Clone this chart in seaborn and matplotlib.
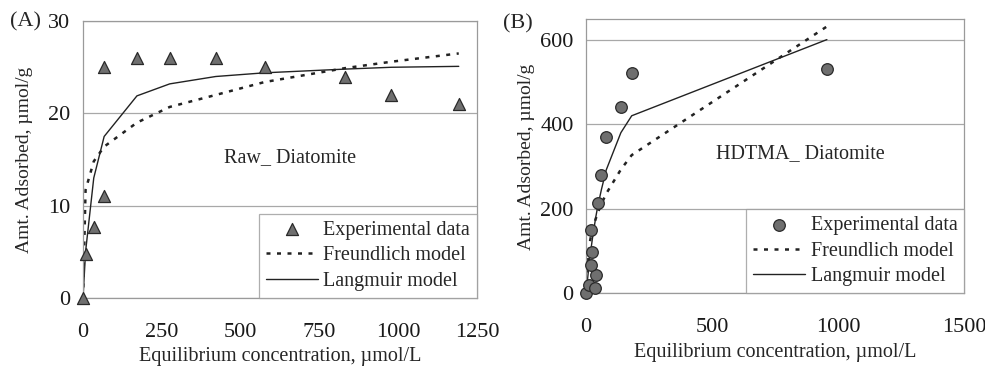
import matplotlib
matplotlib.use('Agg')
import pandas as pd
import matplotlib.pyplot as plt
import seaborn as sns

# ---------------------------------------------------------------------------
# DATA
# ---------------------------------------------------------------------------
# panel A: raw diatomite
raw_exp_x = [0, 8, 34, 67, 67, 171, 275, 421, 576, 830, 978, 1192]
raw_exp_y = [0, 4.8, 7.7, 11.1, 25.0, 26.0, 26.0, 26.0, 25.0, 24.0, 22.0, 21.0]
raw_model_x = [0, 8, 34, 67, 171, 275, 421, 576, 830, 978, 1192]
raw_freundlich = [0, 11.7, 14.8, 16.4, 19.0, 20.7, 22.0, 23.4, 24.9, 25.6, 26.5]
raw_langmuir = [0, 5.0, 13.0, 17.5, 21.9, 23.2, 24.0, 24.4, 24.8, 25.0, 25.1]

# panel B: HDTMA diatomite
hd_exp_x = [0, 12, 36, 38, 19, 25, 19, 46, 61, 80, 138, 181, 955]
hd_exp_y = [0, 20, 14, 43, 67, 98, 151, 213, 281, 370, 441, 520, 531]
hd_model_x = [0, 12, 19, 25, 38, 46, 61, 80, 138, 181, 955]
hd_freundlich = [0, 112, 134, 150, 176, 190, 212, 236, 293, 327, 631]
hd_langmuir = [0, 69, 103, 129, 179, 205, 246, 292, 380, 420, 600]

legend_labels = ['Experimental data', 'Freundlich model', 'Langmuir model']

# ---------------------------------------------------------------------------
# PLOT
# ---------------------------------------------------------------------------
sns.set_style('white')
plt.rcParams['font.family'] = ['Liberation Serif', 'DejaVu Serif']

fig = plt.figure(figsize=(9.85, 3.71), dpi=100)
ax_a = fig.add_axes([0.0843, 0.197, 0.400, 0.746])
ax_b = fig.add_axes([0.595, 0.209, 0.384, 0.739])

pt_color = '#6f6f6f'
edge = '#2a2a2a'
line_color = '#222222'
grid_color = '#a8a8a8'


def draw_panel(ax, ex, ey, mx, fr, la, marker, msize, ylabelpad):
    sns.lineplot(x=mx, y=fr, ax=ax, color=line_color, linewidth=1.8,
                 linestyle=(0, (1.6, 2.6)), sort=False, label=legend_labels[1])
    sns.lineplot(x=mx, y=la, ax=ax, color=line_color, linewidth=1.0,
                 sort=False, label=legend_labels[2])
    sns.scatterplot(x=ex, y=ey, ax=ax, marker=marker, s=msize, color=pt_color,
                    edgecolor=edge, linewidth=0.9, zorder=5, clip_on=False,
                    label=legend_labels[0])
    ax.grid(axis='y', color=grid_color, linewidth=0.9)
    ax.set_axisbelow(True)
    for sp in ax.spines.values():
        sp.set_color('#9a9a9a')
        sp.set_linewidth(0.9)
    ax.tick_params(axis='both', direction='out', length=4, width=0.8,
                   color='#9a9a9a', labelsize=16, labelcolor='#1a1a1a', pad=5)
    ax.tick_params(axis='x', pad=14)
    ax.set_xlabel('Equilibrium concentration, µmol/L', fontsize=14.5, labelpad=4)
    ax.set_ylabel('Amt. Adsorbed, µmol/g', fontsize=14, labelpad=ylabelpad)
    handles, labels = ax.get_legend_handles_labels()
    order = [labels.index(l) for l in legend_labels]
    leg = ax.legend([handles[i] for i in order], legend_labels, loc='lower right',
                    bbox_to_anchor=(1.0, 0.0), borderaxespad=0, fontsize=14.5,
                    frameon=True, fancybox=False, handlelength=2.6,
                    handletextpad=0.25, labelspacing=0.32, borderpad=0.35)
    leg.get_frame().set_edgecolor('#9a9a9a')
    leg.get_frame().set_linewidth(0.9)
    return leg


leg_a = draw_panel(ax_a, raw_exp_x, raw_exp_y, raw_model_x, raw_freundlich,
                   raw_langmuir, '^', 75, 11)
ax_a.set_xlim(0, 1250)
ax_a.set_ylim(0, 30)
ax_a.set_xticks([0, 250, 500, 750, 1000, 1250])
ax_a.set_yticks([0, 10, 20, 30])
ax_a.text(657, 15.2, 'Raw_ Diatomite', fontsize=14.5, ha='center', va='center')

leg_b = draw_panel(ax_b, hd_exp_x, hd_exp_y, hd_model_x, hd_freundlich,
                   hd_langmuir, 'o', 70, 4)
ax_b.set_xlim(0, 1500)
ax_b.set_ylim(0, 648)
ax_b.set_xticks([0, 500, 1000, 1500])
ax_b.set_yticks([0, 200, 400, 600])
ax_b.text(849, 331, 'HDTMA_ Diatomite', fontsize=14.5, ha='center', va='center')

fig.text(0.01, 0.94, '(A)', fontsize=16, ha='left', va='center')
fig.text(0.511, 0.937, '(B)', fontsize=16, ha='left', va='center')

plt.savefig('out.png', dpi=100)
